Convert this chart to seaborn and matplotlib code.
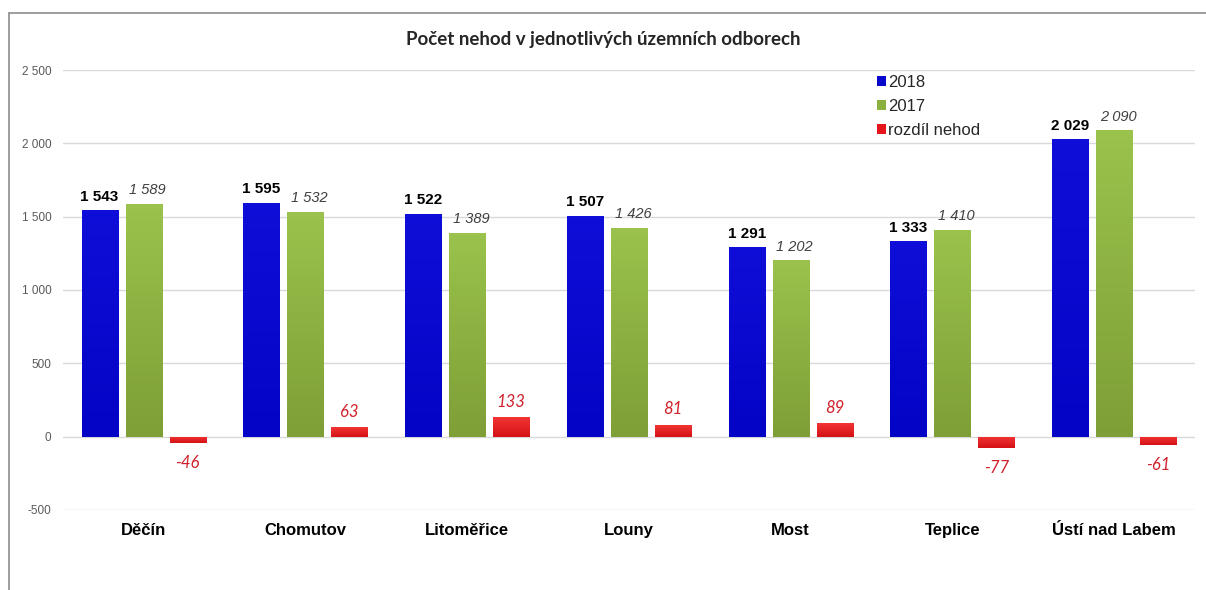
import numpy as np
import pandas as pd
import seaborn as sns
import matplotlib.pyplot as plt
from matplotlib.patches import Patch
from matplotlib.lines import Line2D
from matplotlib.colors import LinearSegmentedColormap
from matplotlib.ticker import FuncFormatter

# --- data ---
regions = ['Děčín', 'Chomutov', 'Litoměřice', 'Louny', 'Most', 'Teplice', 'Ústí nad Labem']
nehody_2018 = [1543, 1595, 1522, 1507, 1291, 1333, 2029]
nehody_2017 = [1589, 1532, 1389, 1426, 1202, 1410, 2090]
rozdil = [-46, 63, 133, 81, 89, -77, -61]
series = ['2018', '2017', 'rozdíl nehod']
y_ticks = [-500, 0, 500, 1000, 1500, 2000, 2500]

colors = {'2018': '#0808CC', '2017': '#8CB03E', 'rozdíl nehod': '#E4151B'}
# light -> dark shading (top to bottom) for a slight 3D look
shades = {
    '2018': ['#0E0ED8', '#0404C6'],
    '2017': ['#9AC24C', '#7E9F36'],
    'rozdíl nehod': ['#F23434', '#D41216'],
}

df = pd.DataFrame({
    'Region': regions * 3,
    'Serie': [series[0]] * 7 + [series[1]] * 7 + [series[2]] * 7,
    'Pocet': nehody_2018 + nehody_2017 + rozdil,
})

sns.set_style("white")
plt.rcParams['font.family'] = ['Liberation Sans', 'DejaVu Sans']

fig = plt.figure(figsize=(12.06, 5.9), dpi=100)
ax = fig.add_axes([0.052, 0.136, 0.939, 0.745])

sns.barplot(data=df, x='Region', y='Pocet', hue='Serie', hue_order=series,
            palette=colors, width=0.816, gap=0.18, ax=ax, legend=False,
            saturation=1, edgecolor='none')

# gradient fill clipped to each bar
grad = np.linspace(0, 1, 64).reshape(-1, 1)
for serie, cont in zip(series, ax.containers):
    cmap = LinearSegmentedColormap.from_list(serie, shades[serie])
    for bar in cont:
        x0, y0 = bar.get_x(), bar.get_y()
        w, h = bar.get_width(), bar.get_height()
        top, bottom = max(y0, y0 + h), min(y0, y0 + h)
        im = ax.imshow(grad, cmap=cmap, aspect='auto', origin='upper',
                       extent=[x0, x0 + w, bottom, top], zorder=bar.get_zorder() + 0.1)
        im.set_clip_path(bar)

ax.set_ylim(-500, 2500)
ax.set_xlim(-0.5, len(regions) - 0.5)
ax.set_yticks(y_ticks)
ax.yaxis.set_major_formatter(FuncFormatter(lambda v, p: f"{int(v):,}".replace(',', ' ')))
ax.tick_params(axis='y', labelsize=8.5, colors='#595959', length=0, pad=8)
ax.grid(axis='y', color='#D9D9D9', linewidth=1)
ax.set_axisbelow(True)
for s in ax.spines.values():
    s.set_visible(False)
ax.set_xlabel('')
ax.set_ylabel('')
ax.set_xticks([])

# category labels below the -500 line
for i, r in enumerate(regions):
    ax.text(i, -640, r, ha='center', va='center', fontsize=12, fontweight='bold', color='black')

# value labels
c18, c17, cdiff = ax.containers[0], ax.containers[1], ax.containers[2]
for bar, v in zip(c18, nehody_2018):
    ax.text(bar.get_x() + bar.get_width() / 2, v + 45, f"{v:,}".replace(',', ' '),
            ha='center', va='bottom', fontsize=11, fontweight='bold', color='black')
for bar, v in zip(c17, nehody_2017):
    ax.text(bar.get_x() + bar.get_width() / 2 + 4 / 160, v + 45, f"{v:,}".replace(',', ' '),
            ha='center', va='bottom', fontsize=10.5, fontstyle='italic', color='#404040')
for bar, v in zip(cdiff, rozdil):
    y = v + 50 if v > 0 else v - 80
    ax.text(bar.get_x() + bar.get_width() / 2, y, f"{v}",
            ha='center', va='bottom' if v > 0 else 'top', fontsize=12,
            fontstyle='italic', color='#D0202A', family=['Lato', 'DejaVu Sans'])

# title
fig.text(0.5, 1 - 40 / 590, 'Počet nehod v jednotlivých územních odborech', ha='center', va='center',
         fontsize=13.5, fontweight='bold', family=['Lato', 'DejaVu Sans'])

# legend
handles = [Patch(facecolor=colors[s], edgecolor='none') for s in series]
fig.legend(handles, series, loc='upper left', bbox_to_anchor=(870 / 1206, 1 - 68 / 590),
           frameon=False, fontsize=12, handlelength=0.55, handleheight=0.55,
           handletextpad=0.15, labelspacing=0.55, borderaxespad=0)

# outer frame (top and left)
fig.add_artist(Line2D([9 / 1206, 1], [1 - 13 / 590, 1 - 13 / 590], color='#8C8C8C', linewidth=1.2))
fig.add_artist(Line2D([9 / 1206, 9 / 1206], [0, 1 - 13 / 590], color='#8C8C8C', linewidth=1.2))

fig.savefig('out.png', dpi=100)
